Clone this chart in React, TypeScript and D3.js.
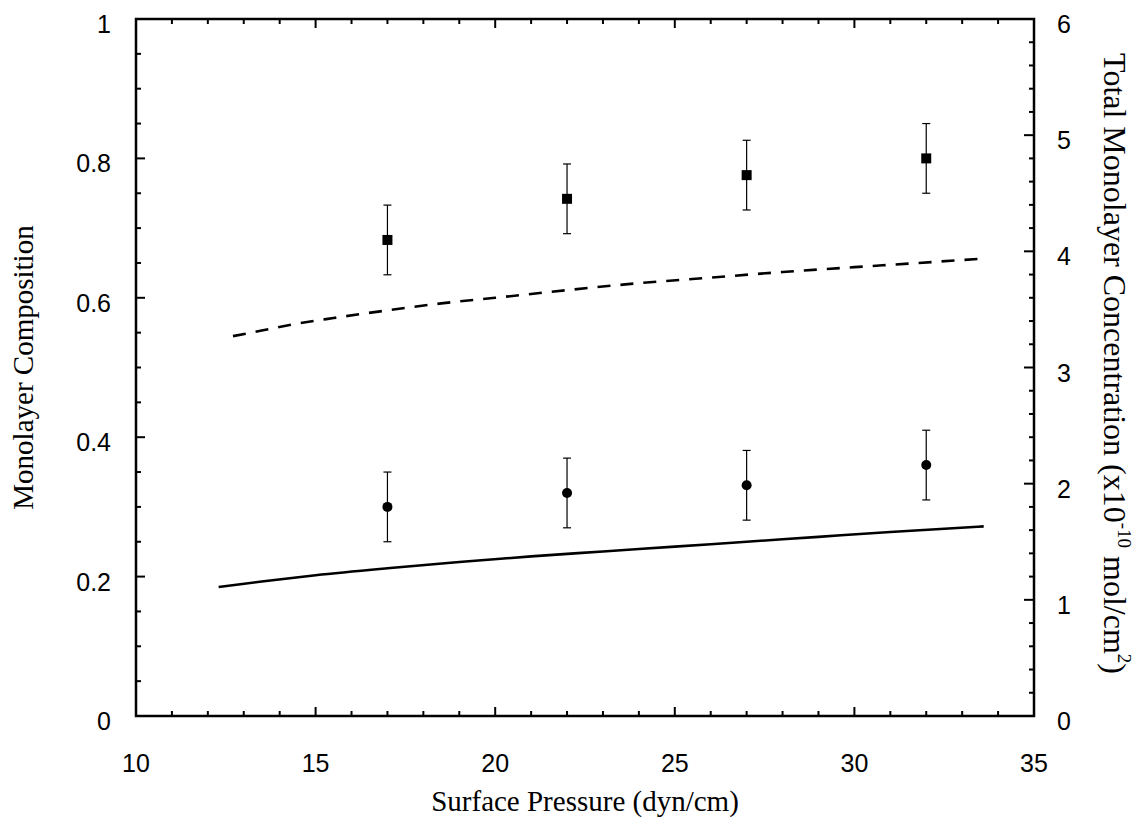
import React from "react";
import * as d3 from "d3";

// Measured composition at each surface pressure (dyn/cm)
const pressure = [17, 22, 27, 32];
const squareValues = [0.683, 0.742, 0.776, 0.8];
const squareErrors = [0.05, 0.05, 0.05, 0.05];
const circleValues = [0.3, 0.32, 0.331, 0.36];
const circleErrors = [0.05, 0.05, 0.05, 0.05];

// Model curves (left-axis units)
const dashedX = [12.7, 13.5, 14.5, 15.5, 17, 18.5, 20, 22, 24, 26, 28, 30, 31.5, 33.5];
const dashedY = [0.545, 0.553, 0.563, 0.571, 0.582, 0.592, 0.6, 0.611, 0.621, 0.629, 0.637, 0.644, 0.649, 0.656];
const solidX = [12.3, 13.5, 15, 17, 19, 21, 23, 25, 27, 29, 31, 33.6];
const solidY = [0.185, 0.193, 0.202, 0.212, 0.221, 0.229, 0.236, 0.243, 0.25, 0.257, 0.264, 0.272];

const xTickLabels = [10, 15, 20, 25, 30, 35];
const leftTickLabels = [0, 0.2, 0.4, 0.6, 0.8, 1];
const rightTickLabels = [0, 1, 2, 3, 4, 5, 6];

const W = 1148;
const H = 837;
const m = { left: 136, right: 1034, top: 19, bottom: 716 };

export default function App() {
  const x = d3.scaleLinear().domain([10, 35]).range([m.left, m.right]);
  const y = d3.scaleLinear().domain([0, 1]).range([m.bottom, m.top]);
  const y2 = d3.scaleLinear().domain([0, 6]).range([m.bottom, m.top]);

  const line = d3
    .line<[number, number]>()
    .x((d) => x(d[0]))
    .y((d) => y(d[1]))
    .curve(d3.curveMonotoneX);

  const dashedPts = dashedX.map((v, i) => [v, dashedY[i]] as [number, number]);
  const solidPts = solidX.map((v, i) => [v, solidY[i]] as [number, number]);

  const xMinor = d3.range(10, 35.001, 1);
  const leftMinor = d3.range(0, 1.0001, 0.05);
  const rightMinor = d3.range(0, 6.0001, 0.2);

  const isMajor = (v: number, step: number) => Math.abs(v / step - Math.round(v / step)) < 1e-6;

  const sans = "'Liberation Sans', Arial, Helvetica, sans-serif";
  const serif = "'Liberation Serif', 'Times New Roman', serif";
  const tickFont = 25;
  const titleFont = 29;
  const rightTitleFont = 32;

  return (
    <svg
      width={W}
      height={H}
      style={{ position: "absolute", left: 0, top: 0, background: "#fff" }}
    >
      <rect x={0} y={0} width={W} height={H} fill="#fff" />

      {/* bottom and top ticks */}
      {xMinor.map((v) => {
        const len = isMajor(v, 5) ? 9 : 5;
        return (
          <g key={"xt" + v} stroke="#000" strokeWidth={2}>
            <line x1={x(v)} x2={x(v)} y1={m.bottom} y2={m.bottom - len} />
            <line x1={x(v)} x2={x(v)} y1={m.top} y2={m.top + len} />
          </g>
        );
      })}
      {/* left ticks */}
      {leftMinor.map((v) => {
        const len = isMajor(v, 0.2) ? 9 : 5;
        return (
          <line key={"lt" + v} x1={m.left} x2={m.left + len} y1={y(v)} y2={y(v)} stroke="#000" strokeWidth={2} />
        );
      })}
      {/* right ticks */}
      {rightMinor.map((v) => {
        const len = isMajor(v, 1) ? 10 : 5;
        return (
          <line key={"rt" + v} x1={m.right} x2={m.right - len} y1={y2(v)} y2={y2(v)} stroke="#000" strokeWidth={2} />
        );
      })}

      {/* frame */}
      <rect
        x={m.left}
        y={m.top}
        width={m.right - m.left}
        height={m.bottom - m.top}
        fill="none"
        stroke="#000"
        strokeWidth={2.5}
      />

      {/* tick labels */}
      {xTickLabels.map((v) => (
        <text key={"xl" + v} x={x(v)} y={m.bottom + 56} textAnchor="middle" fontFamily={sans} fontSize={tickFont}>
          {v}
        </text>
      ))}
      {leftTickLabels.map((v) => (
        <text key={"ll" + v} x={m.left - 25} y={y(v) + 14} textAnchor="end" fontFamily={sans} fontSize={tickFont}>
          {v}
        </text>
      ))}
      {rightTickLabels.map((v) => (
        <text key={"rl" + v} x={m.right + 23} y={y2(v) + 14} textAnchor="start" fontFamily={sans} fontSize={tickFont}>
          {v}
        </text>
      ))}

      {/* model curves */}
      <path d={line(dashedPts) || ""} fill="none" stroke="#000" strokeWidth={2.6} strokeDasharray="13 10" />
      <path d={line(solidPts) || ""} fill="none" stroke="#000" strokeWidth={2.6} />

      {/* error bars */}
      {pressure.map((p, i) => (
        <g key={"eb" + p} stroke="#000" strokeWidth={1.2}>
          <line x1={x(p)} x2={x(p)} y1={y(squareValues[i] - squareErrors[i])} y2={y(squareValues[i] + squareErrors[i])} />
          <line x1={x(p) - 4} x2={x(p) + 4} y1={y(squareValues[i] - squareErrors[i])} y2={y(squareValues[i] - squareErrors[i])} />
          <line x1={x(p) - 4} x2={x(p) + 4} y1={y(squareValues[i] + squareErrors[i])} y2={y(squareValues[i] + squareErrors[i])} />
          <line x1={x(p)} x2={x(p)} y1={y(circleValues[i] - circleErrors[i])} y2={y(circleValues[i] + circleErrors[i])} />
          <line x1={x(p) - 4} x2={x(p) + 4} y1={y(circleValues[i] - circleErrors[i])} y2={y(circleValues[i] - circleErrors[i])} />
          <line x1={x(p) - 4} x2={x(p) + 4} y1={y(circleValues[i] + circleErrors[i])} y2={y(circleValues[i] + circleErrors[i])} />
        </g>
      ))}

      {/* markers */}
      {pressure.map((p, i) => (
        <rect key={"sq" + p} x={x(p) - 5} y={y(squareValues[i]) - 5} width={10} height={10} fill="#000" />
      ))}
      {pressure.map((p, i) => (
        <circle key={"ci" + p} cx={x(p)} cy={y(circleValues[i])} r={5} fill="#000" />
      ))}

      {/* axis titles */}
      <text x={(m.left + m.right) / 2} y={811} textAnchor="middle" fontFamily={serif} fontSize={titleFont}>
        Surface Pressure (dyn/cm)
      </text>
      <text
        transform={`translate(33, ${(m.top + m.bottom) / 2}) rotate(-90)`}
        textAnchor="middle"
        fontFamily={serif}
        fontSize={titleFont}
      >
        Monolayer Composition
      </text>
      <text
        transform={`translate(1104, ${(m.top + m.bottom) / 2 - 4}) rotate(90)`}
        textAnchor="middle"
        fontFamily={serif}
        fontSize={rightTitleFont}
      >
        <tspan>Total Monolayer Concentration (x10</tspan>
        <tspan dy={-14} fontSize={19}>-10</tspan>
        <tspan dy={14}> mol/cm</tspan>
        <tspan dy={-14} fontSize={19}>2</tspan>
        <tspan dy={14}>)</tspan>
      </text>
    </svg>
  );
}
